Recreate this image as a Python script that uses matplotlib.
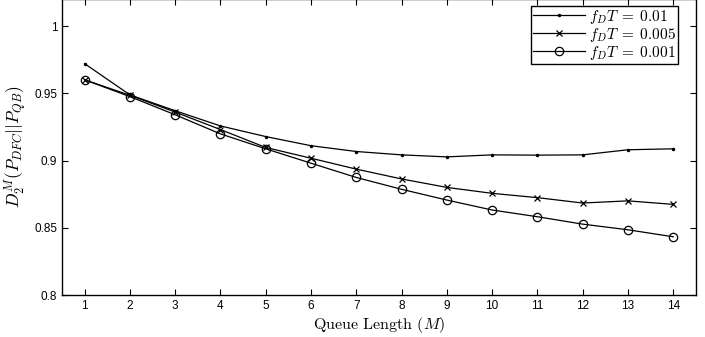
import matplotlib
matplotlib.use("Agg")
import matplotlib.pyplot as plt
from matplotlib.ticker import FuncFormatter

plt.rcParams['mathtext.fontset'] = 'cm'
plt.rcParams['font.family'] = ['Liberation Sans', 'DejaVu Sans']

M = list(range(1, 15))
s_001 = [0.972, 0.9488, 0.937, 0.9257, 0.9178, 0.911, 0.9067, 0.9042, 0.9027, 0.9042, 0.904, 0.9042, 0.908, 0.9087]
s_0005 = [0.960, 0.9485, 0.936, 0.923, 0.9097, 0.9017, 0.8936, 0.8863, 0.880, 0.8756, 0.8724, 0.8684, 0.870, 0.8674]
s_0001 = [0.960, 0.9475, 0.934, 0.9198, 0.9087, 0.898, 0.8874, 0.8786, 0.8706, 0.8632, 0.8582, 0.8527, 0.8485, 0.8433]
labels = [r'$f_DT\;=\;0.01$', r'$f_DT\;=\;0.005$', r'$f_DT\;=\;0.001$']
yticks = [0.8, 0.85, 0.9, 0.95, 1.0]

fig = plt.figure(figsize=(7.05, 3.37), dpi=100)
ax = fig.add_axes([0.088, 0.1246, 0.899, 0.878])

ax.plot(M, s_001, color='black', lw=0.9, marker='.', ms=3, label=labels[0])
ax.plot(M, s_0005, color='black', lw=0.9, marker='x', ms=4.5, mew=0.9, label=labels[1])
ax.plot(M, s_0001, color='black', lw=0.9, marker='o', ms=6, mfc='none', mew=0.9, label=labels[2])

ax.set_xlim(0.5, 14.5)
ax.set_ylim(0.8, 1.02)
ax.set_xticks(M)
ax.set_yticks(yticks)
ax.yaxis.set_major_formatter(FuncFormatter(lambda v, p: f"{v:g}"))
ax.tick_params(direction='in', top=True, right=True, labelsize=8.5, length=4, width=0.8)
for sp in ax.spines.values():
    sp.set_linewidth(1.0)

ax.set_xlabel(r'Queue Length ($M$)', family='cmr10', fontsize=11.5, labelpad=2)
ax.set_ylabel(r'$D_2^M(P_{DFC}||P_{QB})$', fontsize=12.5, labelpad=4)

leg = ax.legend(loc='upper right', bbox_to_anchor=(0.972, 0.977), borderaxespad=0,
                fontsize=11, fancybox=False, edgecolor='black', framealpha=1,
                handlelength=3.4, handletextpad=0.3, borderpad=0.12, labelspacing=0.0)
leg.get_frame().set_linewidth(1.0)

fig.savefig('out.png', dpi=100)
